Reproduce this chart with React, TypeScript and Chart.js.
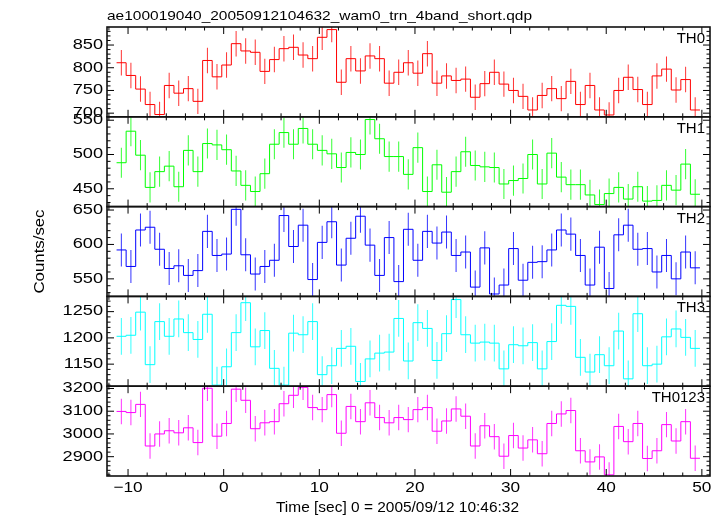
import React, { useEffect, useRef } from "react";
import { Chart, registerables } from "chart.js";

Chart.register(...registerables);

// ---------------- data ----------------
const binCenters = [
  -10.7, -9.7, -8.7, -7.7, -6.7, -5.7, -4.7, -3.7, -2.7, -1.7, -0.7,
  0.3, 1.3, 2.3, 3.3, 4.3, 5.3, 6.3, 7.3, 8.3, 9.3,
  10.3, 11.3, 12.3, 13.3, 14.3, 15.3, 16.3, 17.3, 18.3, 19.3,
  20.3, 21.3, 22.3, 23.3, 24.3, 25.3, 26.3, 27.3, 28.3, 29.3,
  30.3, 31.3, 32.3, 33.3, 34.3, 35.3, 36.3, 37.3, 38.3, 39.3,
  40.3, 41.3, 42.3, 43.3, 44.3, 45.3, 46.3, 47.3, 48.3, 49.3,
];

const th0 = [
  811, 783, 753, 719, 697, 761, 744, 754, 726, 816, 780,
  806, 853, 837, 834, 792, 818, 842, 845, 828, 820,
  867, 884, 768, 820, 793, 826, 820, 766, 790, 811,
  788, 831, 766, 782, 772, 775, 735, 765, 790, 764,
  750, 737, 707, 739, 754, 732, 770, 719, 761, 707,
  696, 750, 779, 752, 719, 782, 797, 751, 774, 707,
];

const th1 = [
  488, 534, 499, 452, 475, 483, 453, 506, 475, 516, 514,
  507, 476, 455, 446, 472, 515, 532, 515, 538, 515,
  506, 501, 481, 503, 500, 551, 523, 497, 497, 471,
  510, 446, 485, 445, 475, 504, 484, 482, 481, 457,
  462, 465, 500, 457, 502, 467, 456, 456, 441, 427,
  443, 452, 435, 453, 432, 433, 455, 448, 486, 442,
];

const th2 = [
  592, 568, 621, 625, 593, 565, 569, 555, 562, 619, 584,
  586, 651, 585, 557, 568, 577, 642, 597, 628, 549,
  603, 633, 570, 609, 641, 599, 555, 610, 546, 622,
  577, 619, 602, 618, 584, 589, 538, 595, 528, 541,
  594, 548, 574, 575, 592, 621, 615, 584, 541, 596,
  536, 614, 628, 593, 594, 560, 584, 550, 589, 566,
];

const th3 = [
  1203, 1205, 1249, 1149, 1231, 1203, 1236, 1210, 1197, 1245, 1110,
  1145, 1210, 1267, 1183, 1214, 1142, 1110, 1209, 1206, 1231,
  1130, 1147, 1180, 1184, 1117, 1160, 1171, 1173, 1237, 1156,
  1229, 1218, 1157, 1208, 1273, 1206, 1190, 1192, 1190, 1141,
  1187, 1185, 1191, 1141, 1193, 1262, 1260, 1163, 1135, 1168,
  1147, 1213, 1122, 1246, 1147, 1150, 1202, 1217, 1201, 1180,
];

const th0123 = [
  3099, 3094, 3130, 2947, 3000, 3014, 3005, 3027, 2962, 3201, 2990,
  3046, 3197, 3148, 3023, 3049, 3054, 3133, 3170, 3205, 3116,
  3107, 3173, 3003, 3121, 3054, 3137, 3072, 3049, 3072, 3063,
  3107, 3116, 3012, 3057, 3110, 3078, 2947, 3036, 2988, 2902,
  2993, 2938, 2974, 2913, 3046, 3088, 3103, 2926, 2877, 2899,
  2820, 3033, 2966, 3046, 2892, 2926, 3041, 2969, 3054, 2893,
];

// half-length of the error bars (counts/sec), read per panel
const errTH0 = 28;
const errTH1 = 22;
const errTH2 = 24;
const errTH3 = 35;
const errTH0123 = 56;

const panelNames = ["TH0", "TH1", "TH2", "TH3", "TH0123"];

const yTicksTH0 = [700, 750, 800, 850];
const yTicksTH1 = [450, 500, 550];
const yTicksTH2 = [550, 600, 650];
const yTicksTH3 = [1150, 1200, 1250];
const yTicksTH0123 = [2900, 3000, 3100, 3200];

const xTicks = [-10, 0, 10, 20, 30, 40, 50];

const titleText = "ae100019040_20050912104632_wam0_trn_4band_short.qdp";
const xTitleText = "Time [sec] 0 = 2005/09/12 10:46:32";
const yTitleText = "Counts/sec";

// ---------------- panel setup ----------------
type Panel = {
  id: string;
  name: string;
  values: number[];
  err: number;
  color: string;
  errColor: string;
  min: number;
  max: number;
  ticks: number[];
  minor: number;
};

const panels: Panel[] = [
  { id: "y0", name: panelNames[0], values: th0, err: errTH0, color: "#ff0000", errColor: "rgba(255,0,0,0.8)", min: 692, max: 889.7, ticks: yTicksTH0, minor: 10 },
  { id: "y1", name: panelNames[1], values: th1, err: errTH1, color: "#00ff00", errColor: "rgba(0,255,0,0.8)", min: 424, max: 555, ticks: yTicksTH1, minor: 10 },
  { id: "y2", name: panelNames[2], values: th2, err: errTH2, color: "#0000ff", errColor: "rgba(0,0,255,0.8)", min: 524.5, max: 655, ticks: yTicksTH2, minor: 10 },
  { id: "y3", name: panelNames[3], values: th3, err: errTH3, color: "#00ffff", errColor: "rgba(0,255,255,0.8)", min: 1108, max: 1279, ticks: yTicksTH3, minor: 10 },
  { id: "y4", name: panelNames[4], values: th0123, err: errTH0123, color: "#ff00ff", errColor: "rgba(255,0,255,0.8)", min: 2815, max: 3210, ticks: yTicksTH0123, minor: 20 },
];

const X_MIN = -12.2;
const X_MAX = 50.85;
const FONT = '"Liberation Sans", Arial, Helvetica, sans-serif';

function stepPoints(values: number[]) {
  const pts = binCenters.map((c, i) => ({ x: c - 0.5, y: values[i] }));
  const last = binCenters.length - 1;
  pts.push({ x: binCenters[last] + 0.5, y: values[last] });
  return pts;
}

function drawText(
  ctx: CanvasRenderingContext2D,
  s: string,
  x: number,
  y: number,
  size: number,
  sx: number,
  align: CanvasTextAlign,
  baseline: CanvasTextBaseline,
  rot = 0
) {
  ctx.save();
  ctx.translate(x, y);
  if (rot) ctx.rotate(rot);
  ctx.scale(sx, 1);
  ctx.font = `${size}px ${FONT}`;
  ctx.textAlign = align;
  ctx.textBaseline = baseline;
  ctx.fillStyle = "#000";
  ctx.fillText(s, 0, 0);
  ctx.restore();
}

function fitScale(ctx: CanvasRenderingContext2D, s: string, size: number, target: number) {
  ctx.save();
  ctx.font = `${size}px ${FONT}`;
  const w = ctx.measureText(s).width;
  ctx.restore();
  return w > 0 ? target / w : 1;
}

const panelClip = {
  id: "panelClip",
  beforeDatasetDraw(chart: any, args: any) {
    const ys = chart.scales[args.meta.yAxisID];
    const a = chart.chartArea;
    const ctx = chart.ctx;
    ctx.save();
    ctx.beginPath();
    ctx.rect(a.left, ys.top, a.right - a.left, ys.bottom - ys.top);
    ctx.clip();
  },
  afterDatasetDraw(chart: any) {
    chart.ctx.restore();
  },
};

const qdpFrame = {
  id: "qdpFrame",
  afterDraw(chart: any) {
    const ctx: CanvasRenderingContext2D = chart.ctx;
    const a = chart.chartArea;
    const xs = chart.scales.x;
    ctx.save();
    panels.forEach((p) => {
      const ys = chart.scales[p.id];
      const top = ys.top;
      const bottom = ys.bottom;
      ctx.strokeStyle = "#000";
      ctx.lineWidth = 1;
      ctx.beginPath();
      const k0 = Math.ceil(p.min / p.minor);
      const k1 = Math.floor(p.max / p.minor);
      for (let k = k0; k <= k1; k++) {
        const v = k * p.minor;
        const y = ys.getPixelForValue(v);
        const len = p.ticks.includes(v) ? 7 : 3.5;
        ctx.moveTo(a.left, y);
        ctx.lineTo(a.left + len, y);
        ctx.moveTo(a.right, y);
        ctx.lineTo(a.right - len, y);
      }
      for (let t = -12; t <= 50; t += 2) {
        const x = xs.getPixelForValue(t);
        const len = xTicks.includes(t) ? 7 : 3.5;
        ctx.moveTo(x, top);
        ctx.lineTo(x, top + len);
        ctx.moveTo(x, bottom);
        ctx.lineTo(x, bottom - len);
      }
      ctx.stroke();
      ctx.lineWidth = 1.6;
      ctx.strokeStyle = "#111";
      ctx.strokeRect(a.left, top, a.right - a.left, bottom - top);

      p.ticks.forEach((v) => {
        drawText(ctx, String(v), a.left - 4, ys.getPixelForValue(v), 14, 1.3, "right", "middle");
      });
      drawText(ctx, p.name, a.right - 5, top + 16, 15, 1, "right", "alphabetic");
    });

    xTicks.forEach((t) => {
      const lab = t < 0 ? "\u2212" + String(-t) : String(t);
      drawText(ctx, lab, xs.getPixelForValue(t), a.bottom + 12, 15, 1.15, "center", "middle");
    });

    const sT = fitScale(ctx, titleText, 13, 425);
    drawText(ctx, titleText, a.left, 20, 13, sT, "left", "alphabetic");

    const sX = fitScale(ctx, xTitleText, 14, 243);
    drawText(ctx, xTitleText, 276, 512, 14, sX, "left", "alphabetic");

    drawText(ctx, yTitleText, 40, (a.top + a.bottom) / 2, 14, 1.2, "center", "middle", -Math.PI / 2);
    ctx.restore();
  },
};

export default function App() {
  const ref = useRef<HTMLCanvasElement>(null);

  useEffect(() => {
    document.body.style.margin = "0";
    const datasets: any[] = [];
    panels.forEach((p) => {
      datasets.push({
        type: "line",
        label: p.name,
        xAxisID: "x",
        yAxisID: p.id,
        data: stepPoints(p.values),
        stepped: true,
        borderColor: p.color,
        borderWidth: 1,
        pointRadius: 0,
        fill: false,
        tension: 0,
      });
      datasets.push({
        type: "bar",
        label: p.name + " error",
        xAxisID: "x",
        yAxisID: p.id,
        data: binCenters.map((c, i) => ({ x: c, y: [p.values[i] - p.err, p.values[i] + p.err] })),
        backgroundColor: p.errColor,
        borderWidth: 0,
        barThickness: 1,
        inflateAmount: 0,
        grouped: false,
      });
    });

    const scales: any = {
      x: { type: "linear", display: false, min: X_MIN, max: X_MAX, offset: false },
    };
    panels.forEach((p, k) => {
      scales[p.id] = {
        type: "linear",
        display: false,
        position: "left",
        stack: "panels",
        stackWeight: 1,
        weight: panels.length - k,
        min: p.min,
        max: p.max,
      };
    });

    const chart = new Chart(ref.current as HTMLCanvasElement, {
      type: "line",
      data: { datasets },
      options: {
        animation: false,
        responsive: false,
        devicePixelRatio: 1,
        events: [],
        layout: { padding: { left: 107, right: 15, top: 27, bottom: 40 } },
        plugins: { legend: { display: false }, title: { display: false }, tooltip: { enabled: false } },
        scales,
      } as any,
      plugins: [panelClip, qdpFrame],
    } as any);
    return () => chart.destroy();
  }, []);

  return (
    <div style={{ position: "absolute", left: 0, top: 0, width: 725, height: 516, background: "#fff" }}>
      <canvas ref={ref} width={725} height={516} style={{ display: "block", width: 725, height: 516 }} />
    </div>
  );
}
